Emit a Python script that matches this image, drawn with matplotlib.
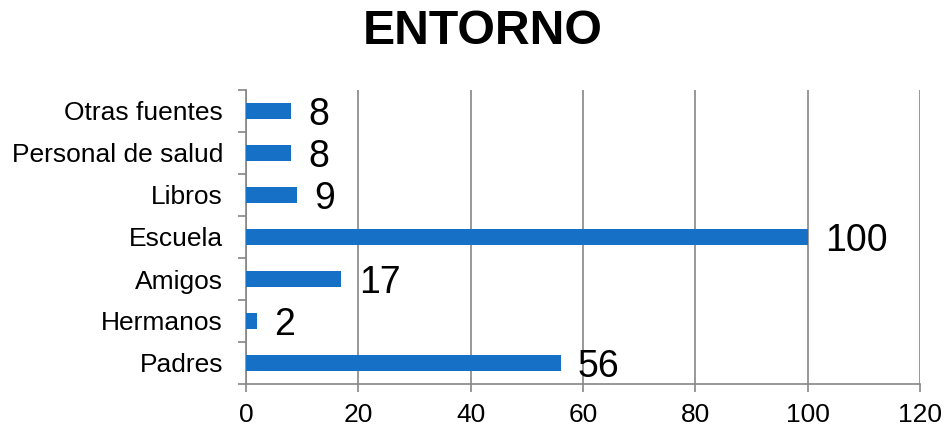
import matplotlib
matplotlib.use("Agg")
import matplotlib.pyplot as plt
import numpy as np

categories = ["Padres", "Hermanos", "Amigos", "Escuela", "Libros", "Personal de salud", "Otras fuentes"]
values = [56, 2, 17, 100, 9, 8, 8]
xticks = [0, 20, 40, 60, 80, 100, 120]

plt.rcParams['font.family'] = ['Liberation Sans', 'DejaVu Sans']

fig = plt.figure(figsize=(9.46, 4.30), dpi=100)
ax = fig.add_axes([246/946, 1-384/430, (920-246)/946, (384-90)/430])

y = np.arange(len(categories))
ax.barh(y, values, height=0.38, color="#1570C6", zorder=3)
for yi, v in zip(y, values):
    ax.annotate(str(v), (v, yi), xytext=(12.5, -3), textcoords="offset points",
                va="center", ha="left", fontsize=27, color="black")

ax.set_xlim(0, 120)
ax.set_ylim(-0.5, len(categories) - 0.5)
ax.set_xticks(xticks)
ax.set_xticklabels([str(t) for t in xticks], fontsize=19)
ax.set_yticks(y)
ax.set_yticklabels(categories, fontsize=19)
ax.tick_params(axis="y", length=0, pad=16.5)
ax.set_yticks(np.arange(-0.5, len(categories)), minor=True)
ax.tick_params(axis="y", which="minor", length=6, color="#868686", width=1.2)
ax.tick_params(axis="x", length=6, color="#868686", width=1.2, pad=8)
ax.grid(axis="x", color="#868686", linewidth=1.2, zorder=0)
for s in ["top", "right"]:
    ax.spines[s].set_visible(False)
for s in ["left", "bottom"]:
    ax.spines[s].set_color("#868686")
    ax.spines[s].set_linewidth(1.2)

fig.text(483/946, 1-31/430, "ENTORNO", ha="center", va="center", fontsize=34.7, fontweight="bold")

fig.savefig("out.png", dpi=100)
